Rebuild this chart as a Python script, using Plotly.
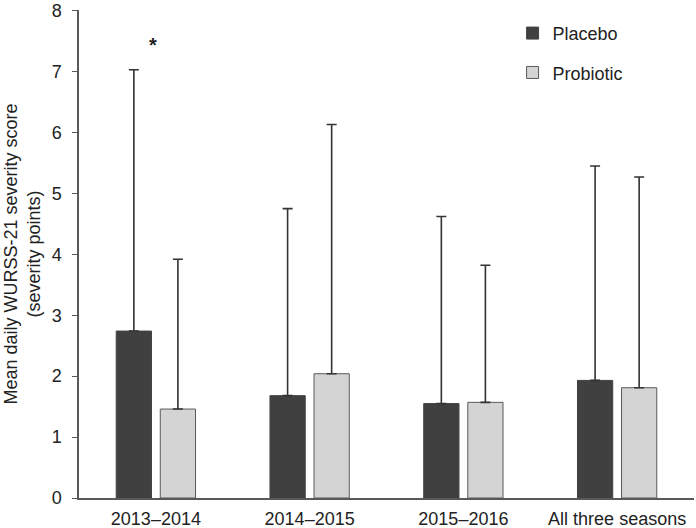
import plotly.graph_objects as go

categories = ["2013–2014", "2014–2015", "2015–2016", "All three seasons"]
placebo_mean = [2.74, 1.68, 1.55, 1.93]
placebo_upper = [7.03, 4.75, 4.62, 5.45]
probiotic_mean = [1.46, 2.04, 1.57, 1.81]
probiotic_upper = [3.92, 6.13, 3.82, 5.27]
y_ticks = [0, 1, 2, 3, 4, 5, 6, 7, 8]

placebo_err = [u - m for u, m in zip(placebo_upper, placebo_mean)]
probiotic_err = [u - m for u, m in zip(probiotic_upper, probiotic_mean)]

font_family = "Liberation Sans, Arial, sans-serif"

fig = go.Figure()
fig.add_trace(go.Bar(
    x=categories, y=placebo_mean, name="Placebo", legendgroup="a",
    marker=dict(color="#404040", line=dict(color="#404040", width=1)),
    error_y=dict(type="data", symmetric=False, array=placebo_err,
                 arrayminus=[0] * len(placebo_err), color="#333333",
                 thickness=1.6, width=5),
))
fig.add_trace(go.Bar(
    x=categories, y=probiotic_mean, name="Probiotic", legendgroup="b",
    marker=dict(color="#d4d4d4", line=dict(color="#5a5a5a", width=1)),
    error_y=dict(type="data", symmetric=False, array=probiotic_err,
                 arrayminus=[0] * len(probiotic_err), color="#333333",
                 thickness=1.6, width=5),
))

fig.add_annotation(x=0, y=7.47, xref="x", yref="y", text="<b>*</b>", showarrow=False,
                   xshift=-3, yshift=-2, font=dict(size=20, color="#222222", family=font_family))

fig.update_layout(
    width=696, height=528,
    margin=dict(l=79, r=2, t=10, b=30),
    paper_bgcolor="white", plot_bgcolor="white",
    font=dict(family=font_family, size=18, color="#222222"),
    barmode="group", bargap=0.427, bargroupgap=0.2,
    showlegend=True,
    legend=dict(x=0.705, y=0.99, xanchor="left", yanchor="top",
                traceorder="grouped", tracegroupgap=13,
                font=dict(size=18, color="#222222"),
                bgcolor="rgba(0,0,0,0)"),
    xaxis=dict(showline=True, linecolor="#595959", linewidth=1.5,
               ticks="outside", ticklen=4, tickcolor="rgba(0,0,0,0)",
               showgrid=False, range=[-0.5, 3.5], automargin=False,
               tickfont=dict(size=18)),
    yaxis=dict(range=[0, 8.01], tickvals=y_ticks, showline=True, linecolor="#595959",
               linewidth=1.5, ticks="outside", ticklen=5, tickcolor="#595959",
               showgrid=False, zeroline=False, tickfont=dict(size=18),
               ticklabelstandoff=7, automargin=False,
               title=dict(text="Mean daily WURSS-21 severity score<br>(severity points)",
                          font=dict(size=18), standoff=6)),
)

fig.write_html("out.html", config={"displayModeBar": False},
               post_script="document.body.style.margin='0';document.body.style.overflow='hidden';")
